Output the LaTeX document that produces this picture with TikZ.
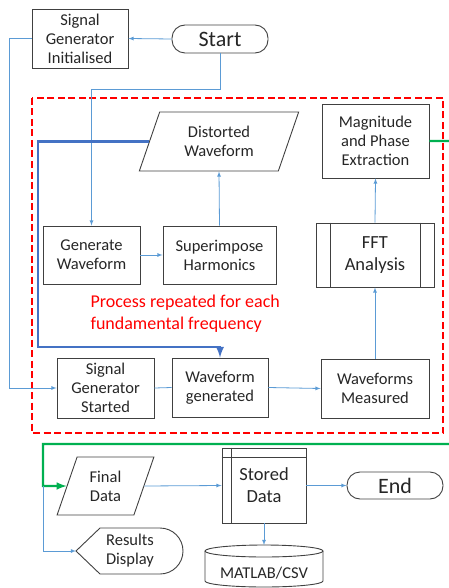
\documentclass[tikz,border=0pt]{standalone}
\usepackage{fontspec}
\setmainfont{Carlito}
\usetikzlibrary{shapes.geometric, positioning}

\definecolor{linkblue}{RGB}{91,155,213}
\definecolor{loopblue}{RGB}{68,114,196}
\definecolor{okgreen}{RGB}{0,176,80}

\tikzset{
	box/.style={draw=black!75, line width=0.9pt, align=center, inner sep=2pt, text=black!85, font=\fontsize{16.5}{19}\selectfont},
	bigbox/.style={box, font=\fontsize{18.5}{22}\selectfont},
	term/.style={box, rounded corners=13pt, font=\fontsize{22}{26}\selectfont},
	para/.style={box, trapezium, trapezium left angle=70, trapezium right angle=110, trapezium stretches=true},
	link/.style={draw=linkblue, line width=0.8pt, -latex},
	loopline/.style={draw=loopblue, line width=2.6pt, -latex},
	okline/.style={draw=okgreen, line width=2.4pt, -latex},
}

\begin{document}
\begin{tikzpicture}[x=1pt, y=-1pt]
		\useasboundingbox (0,0) rectangle (449,588);
		\draw[red, line width=2.6pt, dash pattern=on 7pt off 3.5pt] (32,98) rectangle (443,433); % repeated part
		
		\node[box, minimum width=96pt, minimum height=59pt] (sgi) at (80,38.5) {Signal\\Generator\\Initialised};
		\node[term, minimum width=96pt, minimum height=28pt] (start) at (220,39) {Start};
		
		\node[para, minimum width=160pt, minimum height=59pt] (dist) at (219,141.5) {Distorted\\Waveform};
		\node[box, minimum width=107pt, minimum height=74pt] (mag) at (375.5,141) {Magnitude\\and Phase\\Extraction};
		\node[box, minimum width=97pt, minimum height=58pt] (gen) at (91.5,255) {Generate\\Waveform};
		\node[box, minimum width=113pt, minimum height=58pt] (sup) at (219.5,255) {Superimpose\\Harmonics};
		\node[bigbox, minimum width=118pt, minimum height=64pt] (fft) at (375,255) {FFT\\Analysis};
		\draw[black!75, line width=0.9pt] ([xshift=15pt]fft.north west) -- ([xshift=15pt]fft.south west)
			([xshift=-14pt]fft.north east) -- ([xshift=-14pt]fft.south east);
		\node[red, anchor=west, align=left, font=\fontsize{18}{22}\selectfont] (note) at (87,314) {Process repeated for each\\fundamental frequency};
		
		\node[box, minimum width=97pt, minimum height=60pt] (sgs) at (105.5,388) {Signal\\Generator\\Started};
		\node[box, minimum width=96pt, minimum height=59pt] (wg) at (220,387.5) {Waveform\\generated};
		\node[box, minimum width=108pt, minimum height=59pt] (wm) at (375,388.5) {Waveforms\\Measured};
		
		\node[para, minimum width=97pt, minimum height=58pt] (final) at (105.5,486) {Final\\Data};
		\node[bigbox, minimum width=84pt, minimum height=75pt] (stored) at (264,485.5) {Stored\\Data};
		\draw[black!75, line width=0.9pt] ([yshift=-10pt]stored.north west) -- ([yshift=-10pt]stored.north east)
			([xshift=10pt]stored.north west) -- ([xshift=10pt]stored.south west);
		\node[term, minimum width=96pt, minimum height=27pt] (end) at (395,485.5) {End};
		
		% display shape
		\node[align=center, text=black!85, font=\fontsize{16.5}{19}\selectfont] (res) at (130,551) {Results\\Display};
		\coordinate (restip) at (76,551);
		\draw[black!75, line width=0.9pt] (restip) -- (100,528) -- (160,528) arc[start angle=270, end angle=450, radius=23] -- (100,574) -- cycle;
		
		% database
		\node[text=black!85, font=\fontsize{16.5}{19}\selectfont] (db) at (264,573) {MATLAB/CSV};
		\coordinate (dbtop) at (264,545);
		\draw[black!75, line width=0.9pt] (264,551) ellipse[x radius=59, y radius=6];
		\draw[black!75, line width=0.9pt] (205,551) -- (205,581) arc[start angle=180, end angle=0, x radius=59, y radius=6] -- (323,551);
		
		% connectors
		\draw[link] (start.west) -- (sgi.east);
		\draw[link] (sgi.west) -- ++(-22,0) |- (sgs.west);
		\draw[link] (start.south) -- ++(0,36) -| (gen.north);
		\draw[link] (gen.east) -- (sup.west);
		\draw[link] (sup.north) -- (dist.south);
		\draw[loopline] (dist.west) -| (38,347) -| (wg.north);
		\draw[link, -] (sgs.east) -- (wg.west);
		\draw[link] (wg.east) -- (wm.west);
		\draw[link] (wm.north) -- (fft.south);
		\draw[link] (fft.north) -- (mag.south);
		
		\coordinate (split) at (43,486);
		\draw[okline] (mag.east) -| (460,444) -| (split) -- (final.west);
		\draw[link] (split) |- (restip);
		\draw[link] (final.east) -- (stored.west);
		\draw[link] (stored.east) -- (end.west);
		\draw[link] (stored.south) -- (dbtop);
	\end{tikzpicture}
\end{document}
